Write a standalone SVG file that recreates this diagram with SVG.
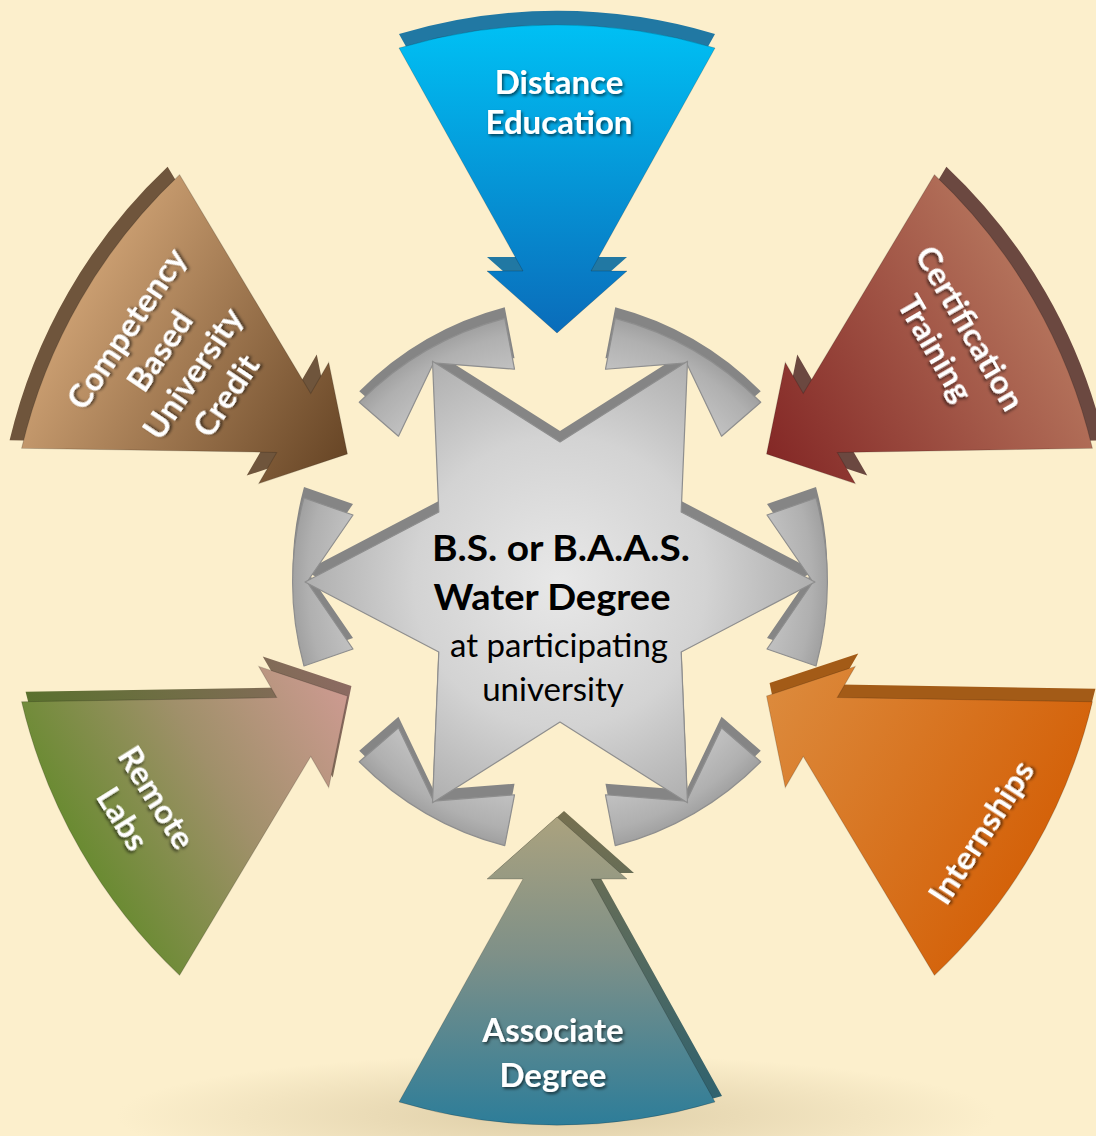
<svg xmlns="http://www.w3.org/2000/svg" width="1096" height="1136" viewBox="0 0 1096 1136">
<defs>
  <style>
    .lbl { font-family: Lato, "Open Sans", "Liberation Sans", sans-serif; font-weight: 700; font-size: 33px; fill: #ffffff; text-anchor: middle; filter: url(#tshadow); }
    .cb { font-family: Lato, "Open Sans", "Liberation Sans", sans-serif; font-weight: 700; font-size: 37px; fill: #000000; text-anchor: middle; }
    .cr { font-family: Lato, "Open Sans", "Liberation Sans", sans-serif; font-weight: 400; font-size: 33px; fill: #000000; text-anchor: middle; }
    .edge { stroke: rgba(0,0,0,0.18); stroke-width: 1; }
    .hubedge { stroke: #8e8e8e; stroke-width: 1.2; stroke-linejoin: round; }
  </style>
  <filter id="tshadow" x="-20%" y="-30%" width="140%" height="160%">
    <feDropShadow dx="1.5" dy="2" stdDeviation="1.5" flood-color="#000000" flood-opacity="0.6"/>
  </filter>
  <radialGradient id="floor" cx="0.5" cy="0.5" r="0.5">
    <stop offset="0" stop-color="#d8c7a0" stop-opacity="0.85"/>
    <stop offset="1" stop-color="#d8c7a0" stop-opacity="0"/>
  </radialGradient>
  <path id="arw" d="M-158,-527 A550,550 0 0 1 158,-527 L34,-304 L70,-304 L0,-242 L-70,-304 L-34,-304 Z"/>
  <linearGradient id="gDist" gradientUnits="userSpaceOnUse" x1="0" y1="-550" x2="0" y2="-242">
    <stop offset="0" stop-color="#00c0f4"/><stop offset="1" stop-color="#0a6cba"/>
  </linearGradient>
  <linearGradient id="gCert" gradientUnits="userSpaceOnUse" x1="0" y1="-550" x2="0" y2="-242">
    <stop offset="0" stop-color="#b3715a"/><stop offset="1" stop-color="#842826"/>
  </linearGradient>
  <linearGradient id="gInt" gradientUnits="userSpaceOnUse" x1="0" y1="-550" x2="0" y2="-242">
    <stop offset="0" stop-color="#d4620a"/><stop offset="1" stop-color="#dc8a3c"/>
  </linearGradient>
  <linearGradient id="gAsc" gradientUnits="userSpaceOnUse" x1="0" y1="-550" x2="0" y2="-242">
    <stop offset="0" stop-color="#2d7d99"/><stop offset="0.55" stop-color="#7e9088"/><stop offset="1" stop-color="#aba27e"/>
  </linearGradient>
  <linearGradient id="gAscX" gradientUnits="userSpaceOnUse" x1="0" y1="-550" x2="0" y2="-242">
    <stop offset="0" stop-color="#2a6171"/><stop offset="1" stop-color="#77704f"/>
  </linearGradient>
  <linearGradient id="gRem" gradientUnits="userSpaceOnUse" x1="0" y1="-550" x2="0" y2="-242">
    <stop offset="0" stop-color="#6a8b32"/><stop offset="0.5" stop-color="#a0906a"/><stop offset="1" stop-color="#cc9a90"/>
  </linearGradient>
  <linearGradient id="gRemX" gradientUnits="userSpaceOnUse" x1="0" y1="-550" x2="0" y2="-242">
    <stop offset="0" stop-color="#56712a"/><stop offset="1" stop-color="#8c6a62"/>
  </linearGradient>
  <linearGradient id="gComp" gradientUnits="userSpaceOnUse" x1="0" y1="-550" x2="0" y2="-242">
    <stop offset="0" stop-color="#c99d70"/><stop offset="1" stop-color="#684626"/>
  </linearGradient>
  <radialGradient id="gStar" gradientUnits="userSpaceOnUse" cx="0" cy="0" r="265">
    <stop offset="0" stop-color="#e8e8e8"/><stop offset="0.55" stop-color="#d3d3d3"/><stop offset="1" stop-color="#ababab"/>
  </radialGradient>
  <radialGradient id="gCap" gradientUnits="userSpaceOnUse" cx="0" cy="0" r="280">
    <stop offset="0.74" stop-color="#c6c6c6"/><stop offset="0.9" stop-color="#b0b0b0"/><stop offset="1" stop-color="#969696"/>
  </radialGradient>
  <polygon id="star" points="255,0 121.2,70 127.5,220.8 0,140 -127.5,220.8 -121.2,70 -255,0 -121.2,-70 -127.5,-220.8 0,-140 127.5,-220.8 121.2,-70"/>
  <path id="cap" d="M256,-84 A320,320 0 0 1 256,84 L207,67 L253,0 L207,-67 Z"/>
  <g id="caps">
    <use href="#cap"/>
    <use href="#cap" transform="rotate(60)"/>
    <use href="#cap" transform="rotate(120)"/>
    <use href="#cap" transform="rotate(180)"/>
    <use href="#cap" transform="rotate(240)"/>
    <use href="#cap" transform="rotate(300)"/>
  </g>
</defs>

<rect width="1096" height="1136" fill="#fcefcc"/>
<ellipse cx="556" cy="1116" rx="440" ry="62" fill="url(#floor)"/>

<g id="hub">
  <g transform="translate(560,571)" fill="#858585">
    <use href="#star"/>
    <use href="#caps"/>
  </g>
  <g transform="translate(560,582)">
    <use href="#caps" fill="url(#gCap)" class="hubedge"/>
    <use href="#star" fill="url(#gStar)" class="hubedge"/>
  </g>
  <text class="cb" x="561" y="561" textLength="258" lengthAdjust="spacingAndGlyphs">B.S. or B.A.A.S.</text>
  <text class="cb" x="552" y="610" textLength="237" lengthAdjust="spacingAndGlyphs">Water Degree</text>
  <text class="cr" x="559" y="657">at participating</text>
  <text class="cr" x="553" y="701">university</text>
</g>

<g id="distance">
  <use href="#arw" transform="translate(557,561) rotate(0)" fill="#2178a3"/>
  <use href="#arw" transform="translate(557,575) rotate(0)" fill="url(#gDist)" class="edge"/>
  <text class="lbl" x="559" y="94">Distance</text>
  <text class="lbl" x="559" y="134">Education</text>
</g>

<g id="certification">
  <use href="#arw" transform="translate(569,567) rotate(60)" fill="#6b4840"/>
  <use href="#arw" transform="translate(557,575) rotate(60)" fill="url(#gCert)" class="edge"/>
  <text class="lbl" transform="translate(953,338) rotate(60)"><tspan x="0" y="-8">Certification</tspan><tspan x="0" y="32">Training</tspan></text>
</g>

<g id="internships">
  <use href="#arw" transform="translate(560,562) rotate(120)" fill="#a35b17"/>
  <use href="#arw" transform="translate(557,575) rotate(120)" fill="url(#gInt)" class="edge"/>
  <text class="lbl" transform="translate(981,832) rotate(-57)"><tspan x="0" y="12">Internships</tspan></text>
</g>

<g id="associate">
  <use href="#arw" transform="translate(564,569) rotate(180)" fill="url(#gAscX)"/>
  <use href="#arw" transform="translate(557,575) rotate(180)" fill="url(#gAsc)" class="edge"/>
  <text class="lbl" x="553" y="1042">Associate</text>
  <text class="lbl" x="553" y="1087">Degree</text>
</g>

<g id="remote">
  <use href="#arw" transform="translate(561,565) rotate(240)" fill="url(#gRemX)"/>
  <use href="#arw" transform="translate(557,575) rotate(240)" fill="url(#gRem)" class="edge"/>
  <text class="lbl" transform="translate(140,808) rotate(58)"><tspan x="0" y="-8">Remote</tspan><tspan x="0" y="32">Labs</tspan></text>
</g>

<g id="competency">
  <use href="#arw" transform="translate(545,567) rotate(300)" fill="#6f553c"/>
  <use href="#arw" transform="translate(557,575) rotate(300)" fill="url(#gComp)" class="edge"/>
  <text class="lbl" transform="translate(176,362) rotate(-56)"><tspan x="0" y="-48">Competency</tspan><tspan x="0" y="-8">Based</tspan><tspan x="0" y="32">University</tspan><tspan x="0" y="72">Credit</tspan></text>
</g>

<g id="connectors"></g>
</svg>
